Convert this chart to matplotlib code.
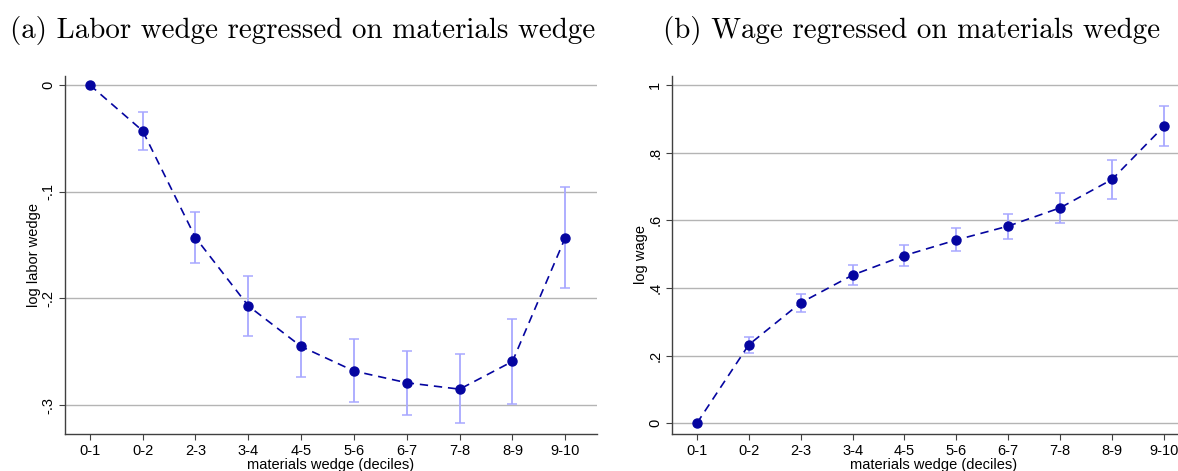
import numpy as np
import matplotlib
matplotlib.use("Agg")
import matplotlib.pyplot as plt

# decile bins on the x axis
deciles = ["0-1", "0-2", "2-3", "3-4", "4-5", "5-6", "6-7", "7-8", "8-9", "9-10"]

# (a) log labor wedge: point estimates and 95% CI bounds
labor = [0.0, -0.043, -0.143, -0.207, -0.245, -0.268, -0.279, -0.285, -0.259, -0.143]
labor_hi = [0.0, -0.025, -0.119, -0.179, -0.217, -0.238, -0.249, -0.252, -0.219, -0.096]
labor_lo = [0.0, -0.061, -0.167, -0.235, -0.274, -0.297, -0.309, -0.317, -0.299, -0.190]

# (b) log wage: point estimates and 95% CI bounds
wage = [0.0, 0.232, 0.356, 0.438, 0.496, 0.542, 0.583, 0.637, 0.721, 0.878]
wage_hi = [0.0, 0.255, 0.383, 0.469, 0.528, 0.578, 0.620, 0.682, 0.779, 0.937]
wage_lo = [0.0, 0.208, 0.328, 0.408, 0.464, 0.508, 0.545, 0.593, 0.664, 0.820]

labor_ticks = [0, -0.1, -0.2, -0.3]
labor_ticklabels = ["0", "-.1", "-.2", "-.3"]
wage_ticks = [0, 0.2, 0.4, 0.6, 0.8, 1.0]
wage_ticklabels = ["0", ".2", ".4", ".6", ".8", "1"]

NAVY = "#0505a0"
CI_COL = "#a8a8ff"
GRID = "#b4b4b4"

plt.rcParams["font.family"] = ["Liberation Sans", "DejaVu Sans"]

fig = plt.figure(figsize=(11.78, 4.71), dpi=100)
W, H = 1178.0, 471.0


def panel(rect_px, y, hi, lo, ticks, ticklabels, ylim, xlim, ylabel, title, title_x):
    x0, x1, ytop, ybot = rect_px
    ax = fig.add_axes([x0 / W, 1 - ybot / H, (x1 - x0) / W, (ybot - ytop) / H])
    x = np.arange(len(deciles))
    y = np.array(y)
    err = np.vstack([y - np.array(lo), np.array(hi) - y])
    mask = err.sum(axis=0) > 0
    ax.errorbar(x[mask], y[mask], yerr=err[:, mask], fmt="none", ecolor=CI_COL,
                elinewidth=1.3, capsize=3.5, capthick=1.1, zorder=2)
    ax.plot(x, y, linestyle=(0, (5, 3.5)), color=NAVY, lw=1.2, zorder=3)
    ax.plot(x, y, "o", color=NAVY, ms=6.5, zorder=4)

    ax.set_xlim(*xlim)
    ax.set_ylim(*ylim)
    ax.set_xticks(x)
    ax.set_xticklabels(deciles, fontsize=10.5)
    ax.set_yticks(ticks)
    ax.set_yticklabels(ticklabels, fontsize=10.5, rotation=90, va="center")
    ax.yaxis.grid(True, color=GRID, lw=1.0)
    ax.set_axisbelow(True)
    for s in ["top", "right"]:
        ax.spines[s].set_visible(False)
    for s in ["left", "bottom"]:
        ax.spines[s].set_color("#404040")
        ax.spines[s].set_linewidth(1.0)
    ax.tick_params(direction="out", length=4, color="#404040", width=0.8, pad=3)
    ax.set_ylabel(ylabel, fontsize=10.5, labelpad=0)
    ax.set_xlabel("materials wedge (deciles)", fontsize=10.5, labelpad=0)
    fig.text(title_x / W, 1 - 30 / H, title, family="cmr10", fontsize=20.9,
             ha="left", va="center")
    return ax


panel((65, 597, 76, 434), labor, labor_hi, labor_lo, labor_ticks, labor_ticklabels,
      (-0.327, 0.0084), (-0.47, 9.6), "log labor wedge",
      "(a) Labor wedge regressed on materials wedge", 10)
panel((672, 1195, 76, 434), wage, wage_hi, wage_lo, wage_ticks, wage_ticklabels,
      (-0.032, 1.027), (-0.48, 9.6), "log wage",
      "(b) Wage regressed on materials wedge", 663)

fig.savefig("out.png", dpi=100)
